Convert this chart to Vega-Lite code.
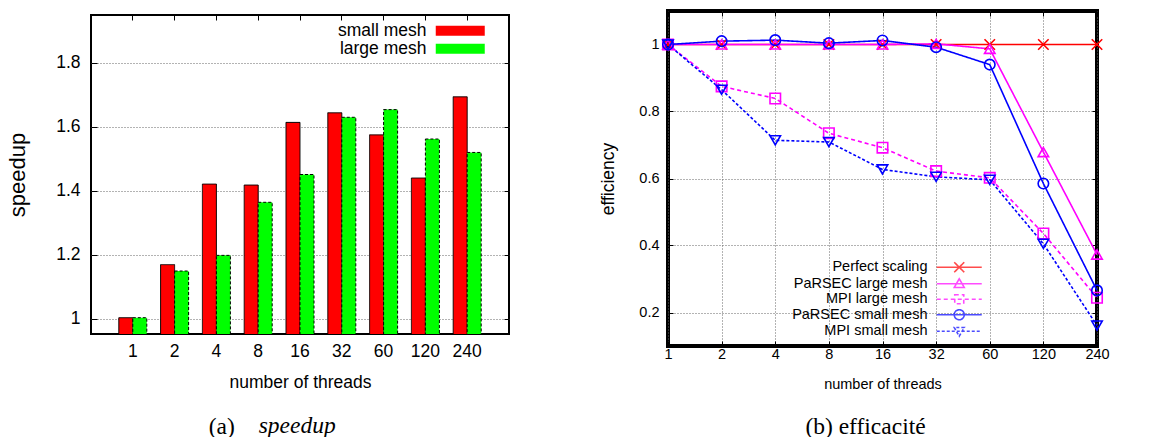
{
  "$schema": "https://vega.github.io/schema/vega-lite/v6.json",
  "background": "white",
  "padding": {"left": 5, "top": 8, "right": 5, "bottom": 5},
  "config": {
    "font": "Liberation Sans",
    "axis": {"labelColor": "black", "titleColor": "black", "titleFontWeight": "normal", "labelFont": "Liberation Sans", "titleFont": "Liberation Sans", "gridColor": "#666", "gridDash": [1, 2], "gridWidth": 1, "domain": false, "tickColor": "black"},
    "legend": {"labelColor": "black", "labelFont": "Liberation Sans"},
    "title": {"color": "black", "fontWeight": "normal", "font": "Liberation Serif"}
  },
  "title": {"text": "speedup", "orient": "bottom", "anchor": "start", "fontStyle": "italic", "fontSize": 23.5, "dx": 253, "dy": -31},
  "spacing": 86,
  "hconcat": [
    {
      "spacing": 1,
      "vconcat": [
        {"width": 418, "height": 1, "data": {"values": []}, "mark": {"type": "point"}, "view": {"stroke": null}},
        {
          "width": 418,
          "height": 319,
          "title": {"text": "(a)", "orient": "bottom", "anchor": "start", "fontSize": 23.5, "dx": 202, "offset": 24},
          "view": {"stroke": "black", "strokeWidth": 2},
          "data": {"values": [
            {"threads": 1, "mesh": "small mesh", "speedup": 1.003},
            {"threads": 1, "mesh": "large mesh", "speedup": 1.003},
            {"threads": 2, "mesh": "small mesh", "speedup": 1.169},
            {"threads": 2, "mesh": "large mesh", "speedup": 1.149},
            {"threads": 4, "mesh": "small mesh", "speedup": 1.421},
            {"threads": 4, "mesh": "large mesh", "speedup": 1.198},
            {"threads": 8, "mesh": "small mesh", "speedup": 1.418},
            {"threads": 8, "mesh": "large mesh", "speedup": 1.364},
            {"threads": 16, "mesh": "small mesh", "speedup": 1.614},
            {"threads": 16, "mesh": "large mesh", "speedup": 1.451},
            {"threads": 32, "mesh": "small mesh", "speedup": 1.644},
            {"threads": 32, "mesh": "large mesh", "speedup": 1.630},
            {"threads": 60, "mesh": "small mesh", "speedup": 1.575},
            {"threads": 60, "mesh": "large mesh", "speedup": 1.654},
            {"threads": 120, "mesh": "small mesh", "speedup": 1.440},
            {"threads": 120, "mesh": "large mesh", "speedup": 1.562},
            {"threads": 240, "mesh": "small mesh", "speedup": 1.694},
            {"threads": 240, "mesh": "large mesh", "speedup": 1.520}
          ]},
          "layer": [
            {
              "mark": {"type": "bar", "stroke": "black", "strokeWidth": 1, "clip": true},
              "encoding": {
                "x": {"field": "threads", "type": "ordinal", "scale": {"paddingInner": 0.33, "paddingOuter": 0.665},
                      "axis": {"orient": "bottom", "title": "number of threads", "labelAngle": 0, "labelFontSize": 17.5, "titleFontSize": 17.5, "ticks": false, "labelPadding": 8, "titlePadding": 14, "grid": false}},
                "xOffset": {"field": "mesh", "type": "nominal", "sort": ["small mesh", "large mesh"], "scale": {"paddingInner": 0, "paddingOuter": 0}},
                "y": {"field": "speedup", "type": "quantitative", "scale": {"domain": [0.952, 1.95], "zero": false, "nice": false},
                      "axis": {"orient": "left", "title": "speedup", "values": [1, 1.2, 1.4, 1.6, 1.8], "format": "~g", "labelFontSize": 17.5, "titleFontSize": 22, "tickSize": -6, "labelPadding": 17, "titlePadding": 26, "grid": true}},
                "color": {"field": "mesh", "type": "nominal", "scale": {"domain": ["small mesh", "large mesh"], "range": ["#ff0000", "#00ff00"]},
                          "legend": {"title": null, "orient": "none", "legendX": 360.5, "legendY": 11, "symbolType": "M-4.9,-1H4.9V1H-4.9Z", "symbolSize": 100, "symbolStrokeColor": "black", "symbolStrokeWidth": 1, "labelAlign": "right", "labelOffset": -42.5, "labelFontSize": 17.5, "rowPadding": -3}},
                "strokeDash": {"field": "mesh", "type": "nominal", "scale": {"domain": ["small mesh", "large mesh"], "range": [[1, 0], [3, 2]]}, "legend": {"title": null, "orient": "none", "legendX": 360.5, "legendY": 11, "symbolType": "M-4.9,-1H4.9V1H-4.9Z", "symbolSize": 100, "symbolStrokeColor": "black", "symbolStrokeWidth": 1, "labelAlign": "right", "labelOffset": -42.5, "labelFontSize": 17.5, "rowPadding": -3}}
              }
            },
            {
              "mark": {"type": "point", "opacity": 0},
              "encoding": {
                "x": {"field": "threads", "type": "ordinal", "axis": {"orient": "top", "labels": false, "title": null, "tickSize": -5, "grid": false}},
                "y": {"field": "speedup", "type": "quantitative", "axis": {"orient": "right", "labels": false, "title": null, "values": [1, 1.2, 1.4, 1.6, 1.8], "tickSize": -5, "grid": false}}
              }
            }
          ],
          "resolve": {"axis": {"x": "independent", "y": "independent"}}
        }
      ]
    },
    {
      "width": 429,
      "height": 335,
      "title": {"text": "(b) efficacité", "orient": "bottom", "anchor": "middle", "fontSize": 23.5, "dx": -17, "offset": 24},
      "view": {"stroke": "black", "strokeWidth": 4},
      "data": {"values": [
        {"threads": 1, "series": "Perfect scaling", "eff": 1},
        {"threads": 2, "series": "Perfect scaling", "eff": 1},
        {"threads": 4, "series": "Perfect scaling", "eff": 1},
        {"threads": 8, "series": "Perfect scaling", "eff": 1},
        {"threads": 16, "series": "Perfect scaling", "eff": 1},
        {"threads": 32, "series": "Perfect scaling", "eff": 1},
        {"threads": 60, "series": "Perfect scaling", "eff": 1},
        {"threads": 120, "series": "Perfect scaling", "eff": 1},
        {"threads": 240, "series": "Perfect scaling", "eff": 1},
        {"threads": 1, "series": "PaRSEC large mesh", "eff": 1},
        {"threads": 2, "series": "PaRSEC large mesh", "eff": 1},
        {"threads": 4, "series": "PaRSEC large mesh", "eff": 1},
        {"threads": 8, "series": "PaRSEC large mesh", "eff": 1},
        {"threads": 16, "series": "PaRSEC large mesh", "eff": 1},
        {"threads": 32, "series": "PaRSEC large mesh", "eff": 1.002},
        {"threads": 60, "series": "PaRSEC large mesh", "eff": 0.987},
        {"threads": 120, "series": "PaRSEC large mesh", "eff": 0.679},
        {"threads": 240, "series": "PaRSEC large mesh", "eff": 0.373},
        {"threads": 1, "series": "MPI large mesh", "eff": 1},
        {"threads": 2, "series": "MPI large mesh", "eff": 0.875},
        {"threads": 4, "series": "MPI large mesh", "eff": 0.839},
        {"threads": 8, "series": "MPI large mesh", "eff": 0.735},
        {"threads": 16, "series": "MPI large mesh", "eff": 0.692},
        {"threads": 32, "series": "MPI large mesh", "eff": 0.622},
        {"threads": 60, "series": "MPI large mesh", "eff": 0.602},
        {"threads": 120, "series": "MPI large mesh", "eff": 0.436},
        {"threads": 240, "series": "MPI large mesh", "eff": 0.244},
        {"threads": 1, "series": "PaRSEC small mesh", "eff": 1},
        {"threads": 2, "series": "PaRSEC small mesh", "eff": 1.01},
        {"threads": 4, "series": "PaRSEC small mesh", "eff": 1.013},
        {"threads": 8, "series": "PaRSEC small mesh", "eff": 1.004},
        {"threads": 16, "series": "PaRSEC small mesh", "eff": 1.012},
        {"threads": 32, "series": "PaRSEC small mesh", "eff": 0.992},
        {"threads": 60, "series": "PaRSEC small mesh", "eff": 0.94},
        {"threads": 120, "series": "PaRSEC small mesh", "eff": 0.585},
        {"threads": 240, "series": "PaRSEC small mesh", "eff": 0.266},
        {"threads": 1, "series": "MPI small mesh", "eff": 1},
        {"threads": 2, "series": "MPI small mesh", "eff": 0.865},
        {"threads": 4, "series": "MPI small mesh", "eff": 0.714},
        {"threads": 8, "series": "MPI small mesh", "eff": 0.709},
        {"threads": 16, "series": "MPI small mesh", "eff": 0.627},
        {"threads": 32, "series": "MPI small mesh", "eff": 0.605},
        {"threads": 60, "series": "MPI small mesh", "eff": 0.596},
        {"threads": 120, "series": "MPI small mesh", "eff": 0.405},
        {"threads": 240, "series": "MPI small mesh", "eff": 0.161}
      ]},
      "layer": [
        {
          "mark": {"type": "line", "strokeWidth": 1.6},
          "encoding": {
            "x": {"field": "threads", "type": "ordinal", "scale": {"type": "point", "padding": 0},
                  "axis": {"orient": "bottom", "title": "number of threads", "labelAngle": 0, "labelFontSize": 14.5, "titleFontSize": 14.5, "tickSize": -5, "labelPadding": 6.5, "titlePadding": 16.5, "grid": true}},
            "y": {"field": "eff", "type": "quantitative", "scale": {"domain": [0.1, 1.1], "zero": false, "nice": false},
                  "axis": {"orient": "left", "title": "efficiency", "values": [0.2, 0.4, 0.6, 0.8, 1], "format": "~g", "labelFontSize": 14.5, "titleFontSize": 17.5, "tickSize": -5, "labelPadding": 14, "titlePadding": 21, "grid": true}},
            "color": {"field": "series", "type": "nominal", "scale": {"domain": ["Perfect scaling", "PaRSEC large mesh", "MPI large mesh", "PaRSEC small mesh", "MPI small mesh"], "range": ["#ff0000", "#ff00ff", "#ff00ff", "#0000ff", "#0000ff"]}, "legend": null},
            "strokeDash": {"field": "series", "type": "nominal", "scale": {"domain": ["Perfect scaling", "PaRSEC large mesh", "MPI large mesh", "PaRSEC small mesh", "MPI small mesh"], "range": [[1, 0], [1, 0], [4, 3], [1, 0], [3, 2]]}, "legend": null}
          }
        },
        {
          "mark": {"type": "point", "filled": false, "size": 110, "strokeWidth": 1.6, "opacity": 1},
          "encoding": {
            "x": {"field": "threads", "type": "ordinal", "axis": null},
            "y": {"field": "eff", "type": "quantitative", "axis": null},
            "color": {"field": "series", "type": "nominal", "scale": {"domain": ["Perfect scaling", "PaRSEC large mesh", "MPI large mesh", "PaRSEC small mesh", "MPI small mesh"], "range": ["#ff0000", "#ff00ff", "#ff00ff", "#0000ff", "#0000ff"]}, "legend": null},
            "shape": {"field": "series", "type": "nominal", "scale": {"domain": ["Perfect scaling", "PaRSEC large mesh", "MPI large mesh", "PaRSEC small mesh", "MPI small mesh"], "range": ["M-1,-1L1,1M-1,1L1,-1", "triangle-up", "square", "circle", "triangle-down"]}, "legend": null}
          }
        },
        {
          "mark": {"type": "point", "opacity": 0},
          "encoding": {
            "x": {"field": "threads", "type": "ordinal", "axis": {"orient": "top", "labels": false, "title": null, "tickSize": -5, "grid": false}},
            "y": {"field": "eff", "type": "quantitative", "axis": {"orient": "right", "labels": false, "title": null, "values": [0.2, 0.4, 0.6, 0.8, 1], "tickSize": -5, "grid": false}}
          }
        },
        {
          "data": {"values": []},
          "mark": {"type": "point", "filled": false, "strokeWidth": 1.6},
          "encoding": {
            "color": {"field": "series", "type": "nominal", "scale": {"domain": ["Perfect scaling", "PaRSEC large mesh", "MPI large mesh", "PaRSEC small mesh", "MPI small mesh"], "range": ["#ff0000", "#ff00ff", "#ff00ff", "#0000ff", "#0000ff"]},
                      "legend": {"title": null, "orient": "none", "legendX": 284, "legendY": 249, "symbolSize": 100, "symbolStrokeWidth": 1.6, "labelAlign": "right", "labelOffset": -39, "labelFontSize": 14.5, "rowPadding": -0.5}},
            "shape": {"field": "series", "type": "nominal", "scale": {"domain": ["Perfect scaling", "PaRSEC large mesh", "MPI large mesh", "PaRSEC small mesh", "MPI small mesh"],
                      "range": ["M-4.5,0H4.5M-1,-1L1,1M-1,1L1,-1", "M-4.5,0H4.5M0,-1L1,0.75H-1Z", "M-4.5,0H4.5M-0.9,-0.9H0.9V0.9H-0.9Z", "M-4.5,0H4.5M1,0A1,1,0,1,1,-1,0A1,1,0,1,1,1,0Z", "M-4.5,0H4.5M0,1L1,-0.75H-1Z"]},
                      "legend": {"title": null, "orient": "none", "legendX": 284, "legendY": 249, "symbolSize": 100, "symbolStrokeWidth": 1.6, "labelAlign": "right", "labelOffset": -39, "labelFontSize": 14.5, "rowPadding": -0.5}},
            "strokeDash": {"field": "series", "type": "nominal", "scale": {"domain": ["Perfect scaling", "PaRSEC large mesh", "MPI large mesh", "PaRSEC small mesh", "MPI small mesh"], "range": [[1, 0], [1, 0], [4, 3], [1, 0], [3, 2]]},
                      "legend": {"title": null, "orient": "none", "legendX": 284, "legendY": 249, "symbolSize": 100, "symbolStrokeWidth": 1.6, "labelAlign": "right", "labelOffset": -39, "labelFontSize": 14.5, "rowPadding": -0.5}}
          }
        }
      ],
      "resolve": {"scale": {"color": "independent", "shape": "independent", "strokeDash": "independent"}, "axis": {"x": "independent", "y": "independent"}}
    }
  ]
}
